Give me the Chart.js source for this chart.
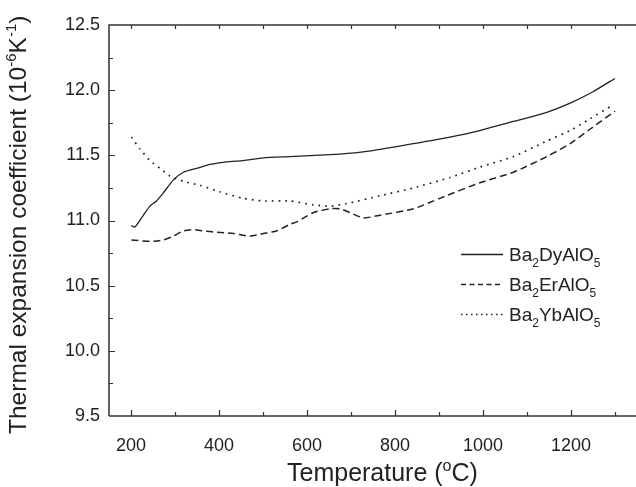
<!DOCTYPE html>
<html>
<head>
<meta charset="utf-8">
<script src="https://cdn.jsdelivr.net/npm/chart.js@4"></script>
<style>
  html, body { margin: 0; padding: 0; background: #fff; overflow: hidden; }
  #wrap { width: 640px; height: 487px; }
</style>
</head>
<body>
<div id="wrap"><canvas id="tecChart"></canvas></div>
<script>
// donnees
const dyTemp = [201, 209, 228, 243, 258, 273, 296, 319, 349, 380, 417, 455, 501, 561, 675, 736, 842, 925, 993, 1069, 1145, 1198, 1251, 1300];
const dyTec  = [10.96, 10.95, 11.04, 11.11, 11.15, 11.21, 11.31, 11.37, 11.40, 11.43, 11.45, 11.46, 11.48, 11.49, 11.51, 11.53, 11.59, 11.64, 11.69, 11.76, 11.83, 11.90, 11.99, 12.09];

const erTemp = [201, 243, 273, 296, 319, 342, 364, 395, 433, 470, 501, 531, 561, 577, 614, 652, 675, 698, 728, 766, 842, 902, 993, 1069, 1145, 1198, 1243, 1300];
const erTec  = [10.85, 10.84, 10.85, 10.88, 10.92, 10.93, 10.92, 10.91, 10.90, 10.88, 10.90, 10.92, 10.97, 10.99, 11.06, 11.09, 11.09, 11.06, 11.02, 11.04, 11.09, 11.17, 11.29, 11.37, 11.49, 11.59, 11.70, 11.84];

const ybTemp = [201, 220, 243, 266, 289, 319, 357, 402, 455, 501, 561, 614, 652, 690, 766, 842, 925, 993, 1069, 1145, 1198, 1243, 1292];
const ybTec  = [11.64, 11.55, 11.46, 11.40, 11.34, 11.30, 11.27, 11.22, 11.17, 11.15, 11.15, 11.12, 11.11, 11.13, 11.19, 11.25, 11.33, 11.41, 11.49, 11.61, 11.69, 11.78, 11.88];

// libelles : [base, indice, suite, indice]
const seriesNames = [['Ba', '2', 'DyAlO', '5'], ['Ba', '2', 'ErAlO', '5'], ['Ba', '2', 'YbAlO', '5']];

const xTicks = [200, 400, 600, 800, 1000, 1200];
const yTicks = [9.5, 10.0, 10.5, 11.0, 11.5, 12.0, 12.5];

const FONT = '"Liberation Sans", Arial, sans-serif';
const INK = '#222';

function toPoints(xs, ys) {
    return xs.map((x, i) => ({ x: x, y: ys[i] }));
}

// axes avec graduations vers l'interieur, titres et legende avec indices
const framePlugin = {
    id: 'frame',
    afterDraw(chart) {
        const ctx = chart.ctx;
        const a = chart.chartArea;
        const xs = chart.scales.x;
        const ys = chart.scales.y;
        ctx.save();
        ctx.strokeStyle = '#333';
        ctx.lineWidth = 1.5;
        ctx.beginPath();
        ctx.moveTo(a.left, a.bottom);
        ctx.lineTo(a.left, a.top);
        ctx.lineTo(a.right + 5, a.top);
        ctx.moveTo(a.left, a.bottom);
        ctx.lineTo(a.right + 5, a.bottom);
        ctx.stroke();

        ctx.lineWidth = 1.2;
        ctx.beginPath();
        for (let v = 200; v <= 1300; v += 100) {
            const px = Math.round(xs.getPixelForValue(v)) + 0.5;
            const len = v % 200 === 0 ? 6 : 4;
            ctx.moveTo(px, a.bottom);
            ctx.lineTo(px, a.bottom - len);
            ctx.moveTo(px, a.top);
            ctx.lineTo(px, a.top + 4);
        }
        for (let v = 9.75; v < 12.5; v += 0.25) {
            const py = Math.round(ys.getPixelForValue(v)) + 0.5;
            const len = Math.abs(v * 2 - Math.round(v * 2)) < 0.01 ? 6 : 4;
            ctx.moveTo(a.left, py);
            ctx.lineTo(a.left + len, py);
        }
        ctx.stroke();

        // titre axe x
        ctx.fillStyle = INK;
        ctx.textBaseline = 'alphabetic';
        drawParts(ctx, [['Temperature (', 0], ['o', -1], ['C)', 0]], 287, 481, 25);

        // titre axe y
        ctx.save();
        ctx.translate(26, 434);
        ctx.rotate(-Math.PI / 2);
        drawParts(ctx, [['Thermal expansion coefficient (10', 0], ['-6', -1], ['K', 0], ['-1', -1], [')', 0]], 0, 0, 24.5);
        ctx.restore();

        // legende
        chart.data.datasets.forEach((ds, i) => {
            const y = 254 + i * 30;
            ctx.save();
            ctx.strokeStyle = ds.borderColor;
            ctx.lineWidth = ds.borderWidth;
            ctx.setLineDash(i === 0 ? [] : (i === 1 ? [5, 3.5] : [1.5, 3.5]));
            ctx.beginPath();
            ctx.moveTo(461, y + 0.5);
            ctx.lineTo(503, y + 0.5);
            ctx.stroke();
            ctx.restore();
            const n = seriesNames[i];
            drawParts(ctx, [[n[0], 0], [n[1], 1], [n[2], 0], [n[3], 1]], 509, y + 7, 19);
        });
        ctx.restore();
    }
};

function drawParts(ctx, parts, x, y, size) {
    let cx = x;
    parts.forEach(p => {
        const small = p[1] !== 0;
        const fs = small ? Math.round(size * 0.62) : size;
        ctx.font = fs + 'px ' + FONT;
        const dy = p[1] === -1 ? -size * 0.42 : (p[1] === 1 ? size * 0.32 : 0);
        ctx.fillText(p[0], cx, y + dy);
        cx += ctx.measureText(p[0]).width;
    });
}

const datasets = [
    {
        label: seriesNames[0].join(''),
        data: toPoints(dyTemp, dyTec),
        borderColor: INK,
        borderWidth: 1.3,
        borderDash: []
    },
    {
        label: seriesNames[1].join(''),
        data: toPoints(erTemp, erTec),
        borderColor: INK,
        borderWidth: 1.5,
        borderDash: [7, 4]
    },
    {
        label: seriesNames[2].join(''),
        data: toPoints(ybTemp, ybTec),
        borderColor: INK,
        borderWidth: 1.7,
        borderDash: [1.7, 5]
    }
];

new Chart(document.getElementById('tecChart').getContext('2d'), {
    type: 'line',
    data: { datasets: datasets },
    options: {
        responsive: true,
        maintainAspectRatio: false,
        animation: false,
        elements: { point: { radius: 0 }, line: { tension: 0.2, fill: false } },
        layout: { padding: { top: 25, right: 3, left: 0, bottom: 0 } },
        plugins: { legend: { display: false }, tooltip: { enabled: false } },
        scales: {
            x: {
                type: 'linear',
                min: 150,
                max: 1350,
                afterBuildTicks: s => { s.ticks = xTicks.map(v => ({ value: v })); },
                afterFit: s => { s.height = 71; },
                grid: { display: false, drawTicks: false },
                border: { display: false },
                ticks: {
                    color: INK,
                    padding: 19,
                    maxRotation: 0,
                    autoSkip: false,
                    font: { family: FONT, size: 18 },
                    callback: v => String(v)
                }
            },
            y: {
                min: 9.5,
                max: 12.5,
                afterBuildTicks: s => { s.ticks = yTicks.map(v => ({ value: v })); },
                afterFit: s => { s.width = 109; },
                grid: { display: false, drawTicks: false },
                border: { display: false },
                ticks: {
                    color: INK,
                    padding: 9,
                    autoSkip: false,
                    font: { family: FONT, size: 18 },
                    callback: v => v.toFixed(1)
                }
            }
        }
    },
    plugins: [framePlugin]
});
</script>
</body>
</html>
